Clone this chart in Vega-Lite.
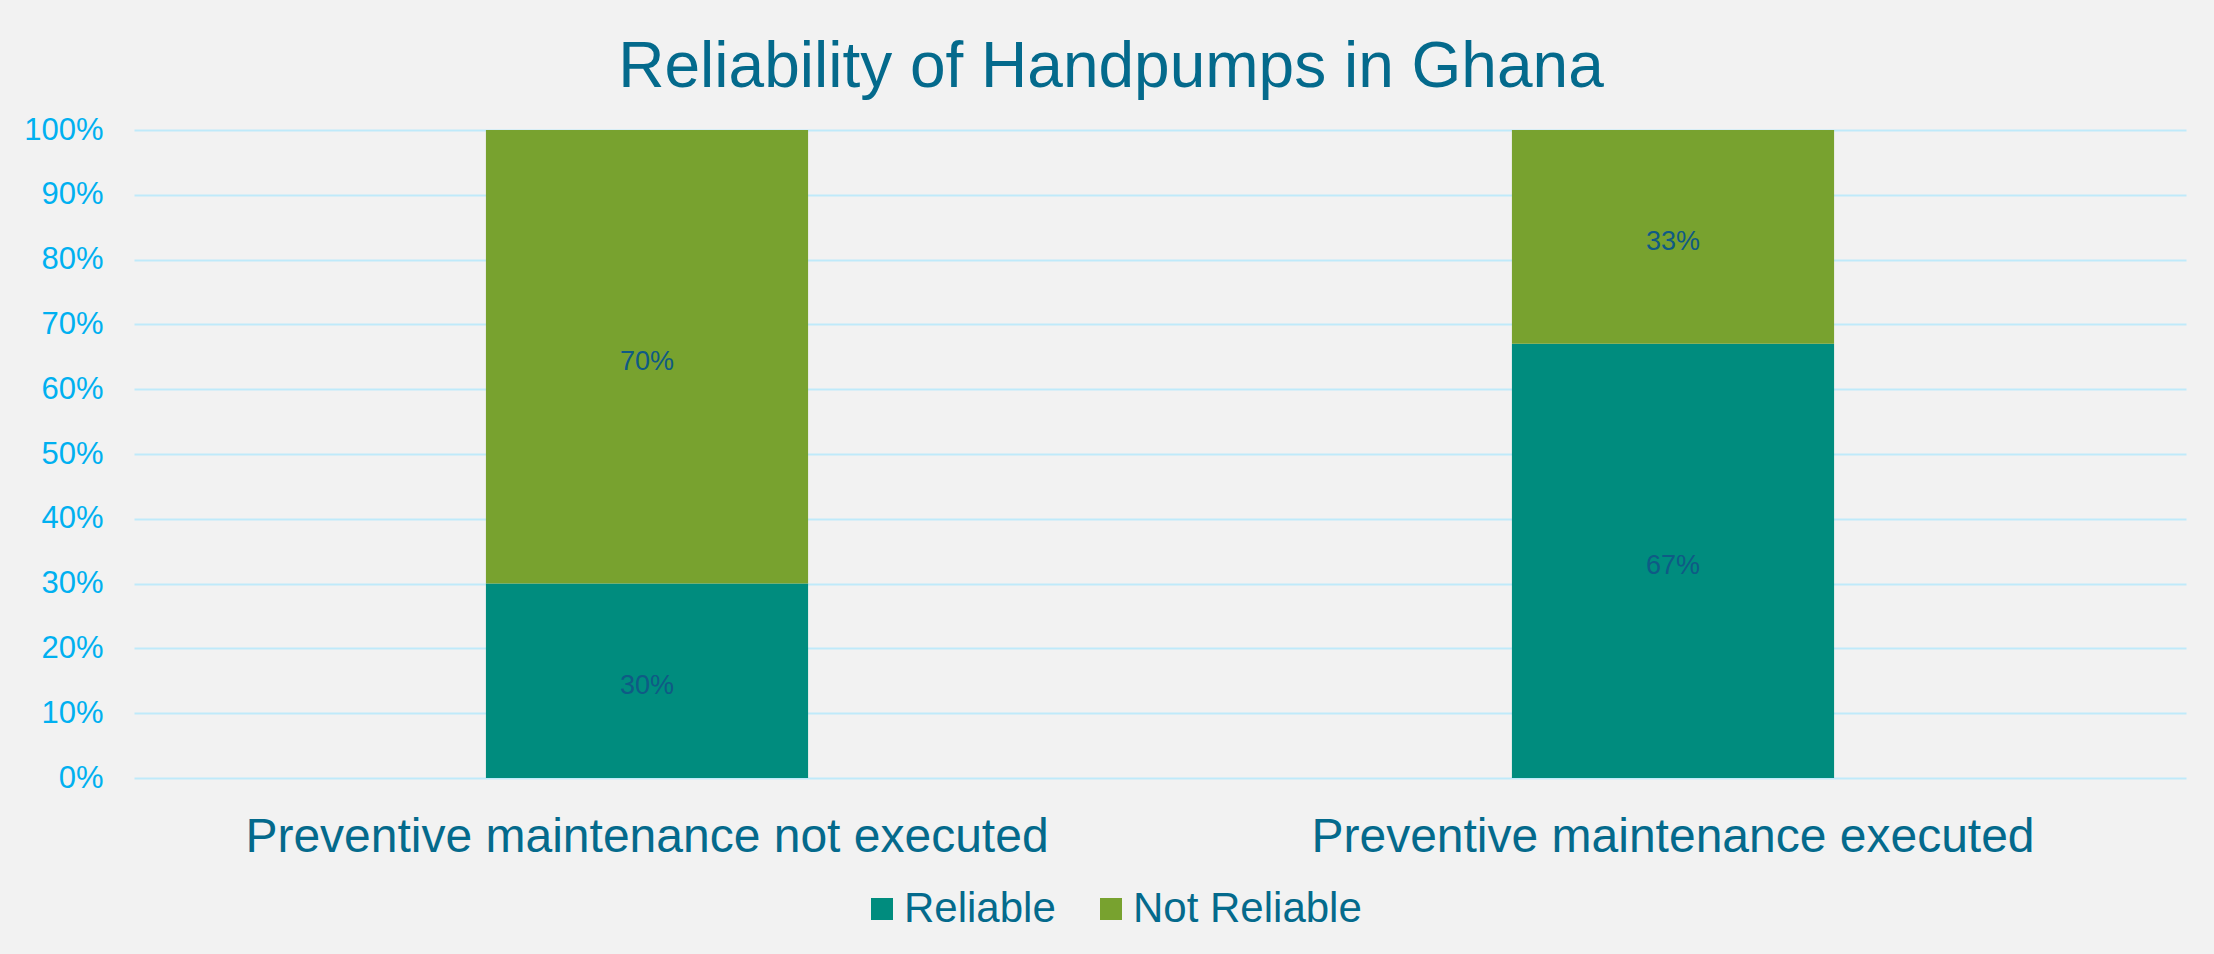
{
  "$schema": "https://vega.github.io/schema/vega-lite/v6.json",
  "width": 2052,
  "height": 648,
  "autosize": {"type": "none"},
  "padding": {"left": 134, "top": 130, "right": 28, "bottom": 176},
  "background": "#F2F2F2",
  "config": {
    "view": {"stroke": null},
    "font": "Liberation Sans",
    "axis": {"labelFont": "Liberation Sans"},
    "legend": {"labelFont": "Liberation Sans"}
  },
  "title": {
    "text": "Reliability of Handpumps in Ghana",
    "fontSize": 64,
    "fontWeight": "normal",
    "color": "#046A8C",
    "anchor": "middle",
    "frame": "group",
    "baseline": "top",
    "offset": 14,
    "dx": -49
  },
  "data": {
    "values": [
      {"category": "Preventive maintenance not executed", "series": "Reliable", "order": 1, "value": 0.30},
      {"category": "Preventive maintenance not executed", "series": "Not Reliable", "order": 2, "value": 0.70},
      {"category": "Preventive maintenance executed", "series": "Reliable", "order": 1, "value": 0.67},
      {"category": "Preventive maintenance executed", "series": "Not Reliable", "order": 2, "value": 0.33}
    ]
  },
  "encoding": {
    "x": {
      "field": "category",
      "type": "nominal",
      "sort": null,
      "scale": {"paddingInner": 0.686, "paddingOuter": 0.343},
      "axis": {
        "title": null,
        "domain": false,
        "ticks": false,
        "labelAngle": 0,
        "labelFontSize": 48,
        "labelColor": "#046A8C",
        "labelPadding": 35,
        "labelLimit": 2000
      }
    },
    "order": {"field": "order", "type": "quantitative"}
  },
  "layer": [
    {
      "mark": {"type": "bar"},
      "encoding": {
        "y": {
          "field": "value",
          "type": "quantitative",
          "stack": "zero",
          "scale": {"domain": [0, 1]},
          "axis": {
            "title": null,
            "format": ".0%",
            "values": [0, 0.1, 0.2, 0.3, 0.4, 0.5, 0.6, 0.7, 0.8, 0.9, 1],
            "domain": false,
            "ticks": false,
            "labelFontSize": 31,
            "labelColor": "#00B0F0",
            "labelPadding": 31,
            "grid": true,
            "gridColor": "#BFEAFA",
            "gridWidth": 2
          }
        },
        "color": {
          "field": "series",
          "type": "nominal",
          "scale": {"domain": ["Reliable", "Not Reliable"], "range": ["#008C7E", "#78A22F"]},
          "legend": {
            "title": null,
            "orient": "none",
            "legendX": 727,
            "legendY": 758,
            "direction": "horizontal",
            "symbolType": "square",
            "symbolSize": 484,
            "symbolStrokeWidth": 0,
            "labelFontSize": 42,
            "labelColor": "#046A8C",
            "labelOffset": 1,
            "labelLimit": 600,
            "columnPadding": 34,
            "padding": 0
          }
        }
      }
    },
    {
      "mark": {"type": "text", "fontSize": 27, "color": "#0F5A85", "baseline": "middle", "dy": 5},
      "encoding": {
        "y": {"field": "value", "type": "quantitative", "stack": "zero", "bandPosition": 0.5},
        "detail": {"field": "series", "type": "nominal"},
        "text": {"field": "value", "type": "quantitative", "format": ".0%"}
      }
    }
  ]
}
